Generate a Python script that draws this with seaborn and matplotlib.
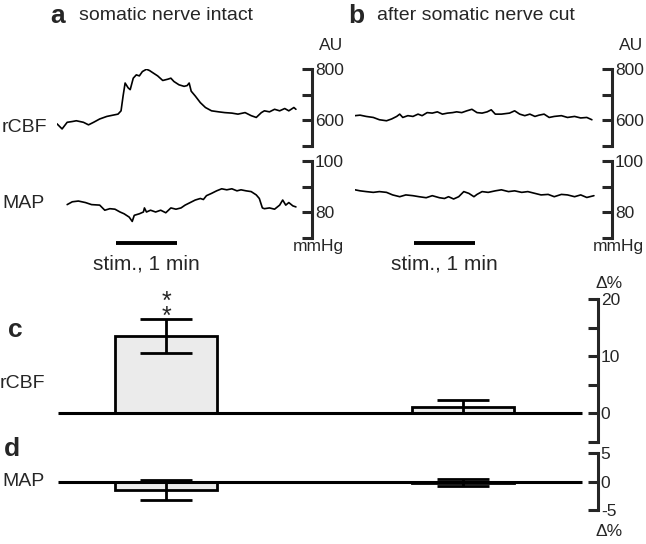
import numpy as np
import pandas as pd
import matplotlib
matplotlib.use('Agg')
import matplotlib.pyplot as plt
import seaborn as sns

# --- traces (time in s) ---
t_cbf_a = [0, 5, 10, 15, 19, 26, 31, 36, 42, 49, 55, 60, 63, 65, 67, 70, 72, 75, 78, 81, 84, 88,
           91, 94, 99, 104, 109, 112, 115, 120, 125, 128, 130, 132, 136, 141, 146, 152, 159, 165,
           172, 178, 185, 191, 196, 201, 204, 209, 214, 219, 224, 228, 233, 235]
cbf_a = [585, 565, 591, 594, 597, 591, 581, 591, 604, 614, 619, 623, 636, 694, 745, 726, 719, 764,
         777, 773, 790, 799, 794, 786, 773, 755, 760, 764, 751, 738, 732, 735, 745, 713, 694, 668,
         649, 636, 632, 629, 627, 623, 629, 617, 610, 629, 636, 632, 642, 636, 645, 636, 649, 642]

t_map_a = [10, 15, 21, 28, 34, 42, 47, 52, 57, 62, 66, 71, 74, 76, 81, 85, 86, 88, 92, 97, 102,
           107, 112, 117, 122, 126, 131, 136, 141, 144, 147, 152, 157, 162, 167, 172, 177, 181, 186,
           191, 196, 199, 202, 204, 209, 214, 219, 222, 225, 228, 232, 235]
map_a = [82.9, 84.0, 84.3, 83.7, 82.9, 82.7, 80.7, 81.3, 81.1, 80.0, 79.3, 78.0, 76.3, 78.7, 79.3,
         80.0, 81.6, 80.0, 80.7, 80.0, 80.7, 79.7, 81.6, 81.1, 81.6, 82.7, 83.7, 84.7, 85.3, 84.9,
         86.4, 87.3, 88.3, 89.1, 88.7, 89.1, 88.3, 88.7, 88.3, 88.0, 86.7, 85.3, 81.6, 81.3, 81.6,
         81.1, 82.7, 84.7, 82.7, 83.7, 82.4, 82.0]

t_cbf_b = [0, 5, 11, 18, 24, 31, 36, 41, 44, 47, 52, 57, 62, 66, 71, 76, 81, 86, 91, 96, 100, 105,
           110, 115, 120, 125, 130, 134, 138, 144, 152, 157, 162, 167, 172, 177, 181, 186, 191, 196,
           203, 209, 216, 222, 228, 233]
cbf_b = [617, 619, 614, 610, 601, 597, 604, 614, 623, 610, 617, 614, 623, 617, 629, 627, 632, 623,
         627, 629, 632, 629, 636, 642, 629, 627, 632, 640, 623, 623, 627, 636, 623, 617, 623, 614,
         619, 623, 610, 614, 617, 610, 614, 608, 610, 601]

t_map_b = [0, 5, 11, 18, 24, 31, 37, 44, 50, 57, 63, 70, 76, 83, 88, 92, 97, 102, 107, 112, 117,
           120, 125, 131, 138, 144, 151, 157, 164, 170, 177, 183, 190, 196, 203, 209, 216, 222, 228, 235]
map_b = [88.7, 88.3, 88.0, 87.7, 88.0, 87.7, 86.7, 86.0, 86.7, 86.4, 86.0, 85.6, 86.4, 85.6, 85.3,
         86.0, 85.1, 86.0, 88.0, 87.3, 86.0, 86.9, 88.0, 87.7, 88.3, 88.7, 88.0, 88.3, 87.7, 88.0,
         87.3, 86.7, 86.9, 86.0, 86.9, 86.7, 86.0, 86.7, 85.7, 86.4]

stim_on, stim_off = 58, 118

# --- summary bars (% change) ---
conditions = ['intact', 'cut']
cbf_mean = [13.5, 1.1]
cbf_err = [3.0, 1.1]
map_mean = [-1.5, -0.2]
map_err = [1.8, 0.6]

sns.set_style('white')
plt.rcParams['font.family'] = ['Liberation Sans', 'DejaVu Sans']

W, H = 646, 544
fig = plt.figure(figsize=(W / 100, H / 100), dpi=100)
px_per_s = 61 / 60


def px_axes(left, top, right, bottom):
    return fig.add_axes([left / W, 1 - bottom / H, (right - left) / W, (bottom - top) / H])


def right_axis(ax, ticks, labels):
    for s in ['left', 'top', 'bottom']:
        ax.spines[s].set_visible(False)
    ax.spines['right'].set_linewidth(2.2)
    ax.yaxis.tick_right()
    ax.set_yticks(ticks)
    ax.set_yticklabels(labels)
    ax.tick_params(axis='y', direction='in', length=7, width=2.2, pad=2, labelsize=12.5)
    ax.set_xticks([])
    ax.set_xlabel('')
    ax.set_ylabel('')
    ax.patch.set_alpha(0)


lw_trace = 1.2
for left, right, tc, vc, tm, vm, letter, title in [
        (57, 312, t_cbf_a, cbf_a, t_map_a, map_a, 'a', 'somatic nerve intact'),
        (355, 612, t_cbf_b, cbf_b, t_map_b, map_b, 'b', 'after somatic nerve cut')]:
    ax1 = px_axes(left, 69, right, 145.5)
    sns.lineplot(x=tc, y=vc, ax=ax1, color='black', lw=lw_trace)
    ax1.set_xlim(0, (right - left) / px_per_s)
    ax1.set_ylim(500, 800)
    right_axis(ax1, [500, 600, 700, 800], ['', '600', '', '800'])

    ax2 = px_axes(left, 161, right, 237.5)
    sns.lineplot(x=tm, y=vm, ax=ax2, color='black', lw=lw_trace)
    ax2.set_xlim(0, (right - left) / px_per_s)
    ax2.set_ylim(70, 100)
    right_axis(ax2, [70, 80, 90, 100], ['', '80', '', '100'])
    ax2.plot([stim_on, stim_off], [67.8, 67.8], color='black', lw=2.8, clip_on=False,
             solid_capstyle='butt')
    ax2.text((stim_on + stim_off) / 2, 63.5, 'stim., 1 min', ha='center', va='top',
             fontsize=15)

    fig.text((right + 19) / W, 1 - 45 / H, 'AU', ha='center', va='center', fontsize=12.5)
    fig.text((right + 6) / W, 1 - 247 / H, 'mmHg', ha='center', va='center', fontsize=12.5)
    fig.text((left - 7) / W, 1 - 16 / H, letter, ha='left', va='center', fontsize=19,
             fontweight='bold')
    fig.text((left + 22) / W, 1 - 16 / H, title, ha='left', va='center', fontsize=14)

fig.text(2 / W, 1 - 127 / H, 'rCBF', ha='left', va='center', fontsize=14)
fig.text(2 / W, 1 - 204 / H, 'MAP', ha='left', va='center', fontsize=14)

# --- bar panels ---
bar_w = 0.343
xl = (-0.364, 1.455)
for top, bottom, means, errs, lim, ticks, labels in [
        (299, 441.5, cbf_mean, cbf_err, (-5, 20), [-5, 0, 5, 10, 15, 20], ['', '0', '', '10', '', '20']),
        (453, 510, map_mean, map_err, (-5, 5), [-5, 0, 5], ['-5', '0', '5'])]:
    ax = px_axes(58, top, 598, bottom)
    sns.barplot(x=conditions, y=means, ax=ax, width=bar_w, color='#ebebeb',
                edgecolor='black', linewidth=2, saturation=1, errorbar=None)
    ax.errorbar([0, 1], means, yerr=errs, fmt='none', ecolor='black', elinewidth=2,
                capsize=19, capthick=2)
    ax.hlines(0, xl[0], 1.40, color='black', lw=2.2, zorder=3)
    ax.set_xlim(*xl)
    ax.set_ylim(*lim)
    right_axis(ax, ticks, labels)
    if lim[1] == 20:
        # two stacked asterisks above the first bar
        ax.text(0, means[0] + errs[0] - 0.9, '*\n*', ha='center', va='baseline',
                fontsize=18, linespacing=0.52, clip_on=False)

fig.text(609 / W, 1 - 284 / H, 'Δ%', ha='center', va='center', fontsize=12.5)
fig.text(609 / W, 1 - 532 / H, 'Δ%', ha='center', va='center', fontsize=12.5)
fig.text(8 / W, 1 - 330 / H, 'c', ha='left', va='center', fontsize=19, fontweight='bold')
fig.text(4 / W, 1 - 449 / H, 'd', ha='left', va='center', fontsize=19, fontweight='bold')
fig.text(0 / W, 1 - 383 / H, 'rCBF', ha='left', va='center', fontsize=14)
fig.text(2 / W, 1 - 482 / H, 'MAP', ha='left', va='center', fontsize=14)

fig.savefig('out.png', dpi=100)
